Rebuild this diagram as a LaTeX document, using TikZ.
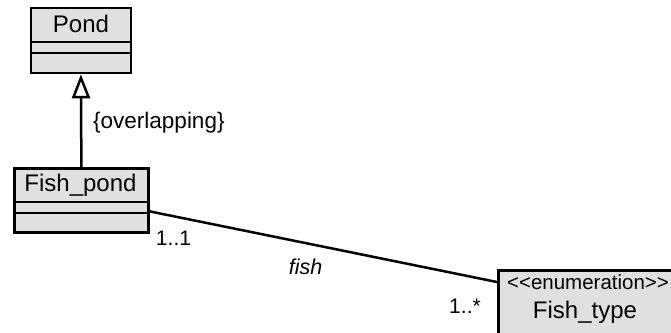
\documentclass[tikz,border=0pt]{standalone}
\usepackage{fontspec}
\setmainfont{Liberation Sans}
\usetikzlibrary{arrows.meta}
\begin{document}
\begin{tikzpicture}[x=1pt,y=-1pt,
  classbox/.style={draw=black, line width=2.8pt, fill=black!12, inner sep=0pt, anchor=north west},
  sepline/.style={line width=2.8pt},
  cname/.style={font=\fontsize{24}{24}\selectfont, anchor=base, inner sep=0pt},
  lbl/.style={font=\fontsize{21}{21}\selectfont, anchor=base, inner sep=0pt},
  conn/.style={line width=2.5pt}]
\useasboundingbox (0,0) rectangle (671,332);
\clip (0,0) rectangle (671,332);
% Pond
\node[classbox, minimum width=100pt, minimum height=65pt] (pond) at (29.5,6.5) {};
\draw[sepline] ([yshift=-35.5pt]pond.north west) -- ([yshift=-35.5pt]pond.north east);
\draw[sepline] ([yshift=-46.5pt]pond.north west) -- ([yshift=-46.5pt]pond.north east);
\node[cname] (pondname) at (81,32) {Pond};
% Fish_pond
\node[classbox, minimum width=134pt, minimum height=64pt] (fishpond) at (13,167) {};
\draw[sepline] ([yshift=-35pt]fishpond.north west) -- ([yshift=-35pt]fishpond.north east);
\draw[sepline] ([yshift=-46pt]fishpond.north west) -- ([yshift=-46pt]fishpond.north east);
\node[cname] (fishpondname) at (80.5,191) {Fish\_pond};
% Fish_type
\node[classbox, minimum width=250pt, minimum height=120pt] (fishtype) at (497,269) {};
\node[lbl, font=\fontsize{20.5}{20.5}\selectfont] (stereo) at (588,289) {<{}<enumeration>{}>};
\node[cname] (fishtypename) at (585,318) {Fish\_type};
% generalization
\draw[conn, -{Triangle[open, length=24pt, width=18pt, line width=2.5pt]}] (fishpond.north) -- (pond.south);
\node[lbl, anchor=base west, font=\fontsize{22.5}{22.5}\selectfont] (overl) at (93,128) {\{overlapping\}};
% association
\draw[conn] ([yshift=-11pt]fishpond.east) -- ([yshift=-13pt]fishtype.north west);
\node[lbl] (m1) at (173.5,245) {1..1};
\node[lbl, font=\fontsize{21.5}{21.5}\selectfont\itshape] (role) at (305.5,274) {fish};
\node[lbl] (m2) at (465,313) {1..*};
\end{tikzpicture}
\end{document}
